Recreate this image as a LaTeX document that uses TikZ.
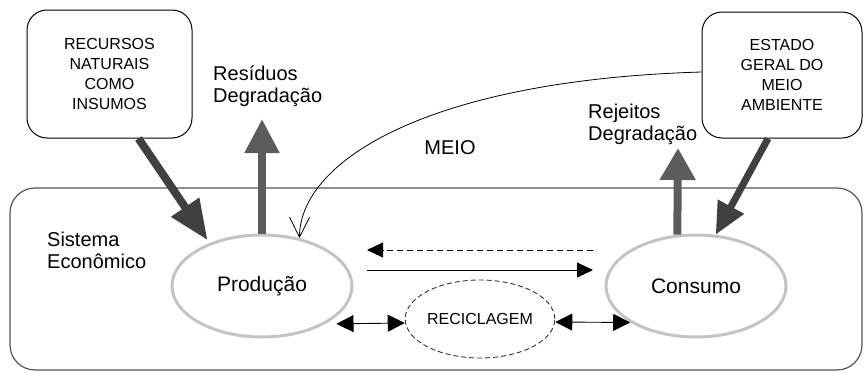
\documentclass[tikz,border=0pt]{standalone}
\usepackage{fontspec}
\setmainfont{Liberation Sans}
\usetikzlibrary{arrows.meta,shapes.geometric}
\definecolor{darkarr}{HTML}{404040}
\definecolor{midarr}{HTML}{5C5C5C}
\definecolor{ellgray}{HTML}{C4C4C4}
\definecolor{sysgray}{HTML}{555555}
\begin{document}
\begin{tikzpicture}[x=1pt,y=-1pt,
  sourcebox/.style={draw=black, line width=1pt, rounded corners=20pt, inner sep=0pt,
    align=center, font=\fontsize{16}{20}\selectfont},
  ell/.style={ellipse, draw=ellgray, line width=3pt, inner sep=0pt,
    minimum width=180pt, minimum height=102pt, font=\fontsize{21}{24}\selectfont},
  lbl/.style={inner sep=0pt, align=left, font=\fontsize{20}{22}\selectfont},
  bigarr/.style={line width=8pt, -{Triangle[length=34pt,width=33pt]}},
  smallhead/.style={line width=0.9pt},
]
\useasboundingbox (0,0) rectangle (864,372);

% system box
\node[draw=sysgray, line width=1.2pt, rounded corners=25pt, minimum width=852pt,
      minimum height=182pt, inner sep=0pt] (sys) at (436,279) {};

% source boxes
\node[sourcebox, minimum width=165pt, minimum height=128pt] (rec) at (109.5,74)
  {RECURSOS\\NATURAIS\\COMO\\INSUMOS};
\node[sourcebox, minimum width=160pt, minimum height=126pt] (est) at (782,75)
  {ESTADO\\GERAL DO\\MEIO\\AMBIENTE};

% ellipses
\node[ell] (prod) at (262,286) {Produção};
\node[ell] (cons) at (696,286) {Consumo};
\node[ellipse, draw=black!80, dashed, dash pattern=on 5pt off 3pt, line width=0.9pt,
      minimum width=144pt, minimum height=78pt, inner sep=0pt,
      font=\fontsize{16}{18}\selectfont] (recic) at (480,319) {RECICLAGEM};

% labels
\node[lbl, anchor=west] (sis) at (47,250) {Sistema\\Econômico};
\node[lbl, anchor=west] (res) at (213,86) {Resíduos\\Degradação};
\node[lbl, anchor=west] (rej) at (588,124) {Rejeitos\\Degradação};
\node[lbl] (meio) at (450,148) {MEIO};

% coordinates for free ends
\coordinate (restip) at (262,119);
\coordinate (rejtip) at (678,148);
\coordinate (dashR) at (593,250);
\coordinate (dashL) at (367,250);
\coordinate (solL) at (367,270);
\coordinate (solR) at (593,270);

% thick arrows
\draw[darkarr, line width=8pt, -{Triangle[length=40pt,width=32pt]}]
  ([xshift=29pt]rec.south) -- ([xshift=1pt,yshift=4pt]prod.143);
\draw[midarr, bigarr] (prod.north) -- (restip);
\draw[midarr, bigarr, -{Triangle[length=32pt,width=34pt]}] (cons.110) -- (rejtip);
\draw[darkarr, line width=7pt, -{Triangle[length=32pt,width=28pt]}]
  ([xshift=-14pt]est.south) -- (cons.69);

% MEIO curve
\draw[black, line width=0.8pt, -{Straight Barb[length=20pt,width=20pt,line width=0.8pt]}]
  ([yshift=3pt]est.west) .. controls (430,80) and (300,160) .. (prod.52);

% horizontal arrows
\draw[smallhead, dashed, dash pattern=on 6pt off 4pt, -{Triangle[length=16pt,width=15pt]}]
  (dashR) -- (dashL);
\draw[smallhead, -{Triangle[length=16pt,width=15pt]}] (solL) -- (solR);
\draw[smallhead, {Triangle[length=17pt,width=17pt]}-{Triangle[length=17pt,width=17pt]}]
  ([xshift=10pt,yshift=-0.6pt]prod.-30) -- ([yshift=-4pt]recic.west);
\draw[smallhead, {Triangle[length=17pt,width=17pt]}-{Triangle[length=17pt,width=17pt]}]
  ([yshift=-3pt]recic.east) -- (cons.209);
\end{tikzpicture}
\end{document}
